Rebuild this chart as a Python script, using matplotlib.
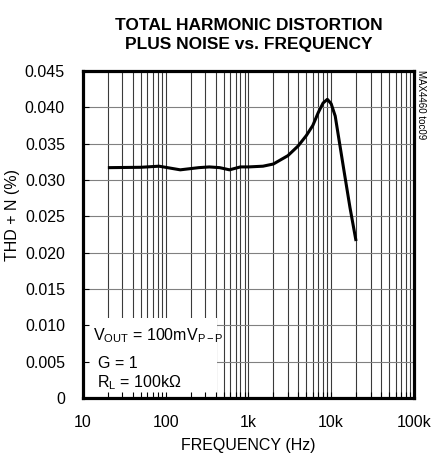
import matplotlib
matplotlib.use("Agg")
import matplotlib.pyplot as plt
from matplotlib.ticker import LogLocator, FixedLocator, NullFormatter
from matplotlib.patches import Rectangle
import numpy as np

# Данные кривой THD+N
freq = [20, 50, 83, 150, 250, 337, 450, 590, 800, 1000, 1500, 2000, 3000,
        4000, 5000, 6000, 7000, 8000, 9000, 10000, 11200, 14100, 16900, 20000]
thd = [0.0317, 0.03175, 0.0319, 0.0314, 0.0317, 0.0318, 0.0317, 0.0314,
       0.0318, 0.0318, 0.0319, 0.0322, 0.03335, 0.0347, 0.0361, 0.0375,
       0.0393, 0.0406, 0.0411, 0.0405, 0.0388, 0.0317, 0.0262, 0.0216]

x_ticks = [10, 100, 1000, 10000, 100000]
x_labels = ["10", "100", "1k", "10k", "100k"]
y_ticks = [0, 0.005, 0.010, 0.015, 0.020, 0.025, 0.030, 0.035, 0.040, 0.045]
y_labels = ["0", "0.005", "0.010", "0.015", "0.020", "0.025", "0.030", "0.035", "0.040", "0.045"]

plt.rcParams["font.family"] = ["Liberation Sans", "DejaVu Sans"]
plt.rcParams["mathtext.fontset"] = "custom"
plt.rcParams["mathtext.rm"] = "Liberation Sans"
plt.rcParams["mathtext.it"] = "Liberation Sans"

fig = plt.figure(figsize=(4.4, 4.59), dpi=100)
ax = fig.add_axes([0.1886, 0.1329, 0.752, 0.7124])

ax.set_xscale("log")
ax.set_xlim(10, 100000)
ax.set_ylim(0, 0.045)

# Сетка вручную, чтобы белая рамка с подписью её закрывала, а засечки оставались
grid_x = [m * 10 ** e for e in range(1, 5) for m in range(1, 10)][1:]
ax.vlines(grid_x, 0, 0.045, colors="#3a3a3a", linewidth=0.8, zorder=1)
ax.hlines(y_ticks[1:], 10, 100000, colors="#808080", linewidth=0.8, zorder=1)

ax.add_patch(Rectangle((0, 0), 0.405, 0.245, transform=ax.transAxes,
                       facecolor="white", edgecolor="none", zorder=2))

ax.set_axisbelow(False)
ax.plot(freq, thd, color="black", linewidth=2.2, solid_capstyle="butt",
        solid_joinstyle="round", zorder=3)

ax.xaxis.set_major_locator(FixedLocator(x_ticks))
ax.set_xticklabels(x_labels)
ax.xaxis.set_minor_locator(LogLocator(base=10, subs=np.arange(2, 10)))
ax.xaxis.set_minor_formatter(NullFormatter())
ax.set_yticks(y_ticks)
ax.set_yticklabels(y_labels)
ax.tick_params(which="both", direction="in", length=4, width=0.8,
               labelsize=11.5, top=False, right=False)
ax.tick_params(axis="y", pad=13)
ax.tick_params(axis="x", pad=12)

for s in ax.spines.values():
    s.set_linewidth(2.3)
    s.set_zorder(4)

ax.set_xlabel("FREQUENCY (Hz)", fontsize=11.5, labelpad=6)
ax.set_ylabel("THD + N (%)", fontsize=11.5)
ax.yaxis.set_label_coords(-0.19, 0.56)
ax.set_title("TOTAL HARMONIC DISTORTION\nPLUS NOISE vs. FREQUENCY",
             fontsize=12.5, fontweight="bold", linespacing=1.3, pad=16)

ax.text(0.029, 0.19, r"V$_\mathrm{OUT}$ = 100mV$_\mathrm{P-P}$", transform=ax.transAxes,
        fontsize=11.5, ha="left", va="center", zorder=5)
ax.text(0.045, 0.107, "G = 1", transform=ax.transAxes,
        fontsize=11.5, ha="left", va="center", zorder=5)
ax.text(0.041, 0.046, r"R$_\mathrm{L}$ = 100k$\Omega$", transform=ax.transAxes,
        fontsize=11.5, ha="left", va="center", zorder=5)

fig.text(0.957, 0.847, "MAX4460 toc09", rotation=-90, fontsize=7,
         ha="center", va="top")

fig.savefig("out.png", dpi=100)
